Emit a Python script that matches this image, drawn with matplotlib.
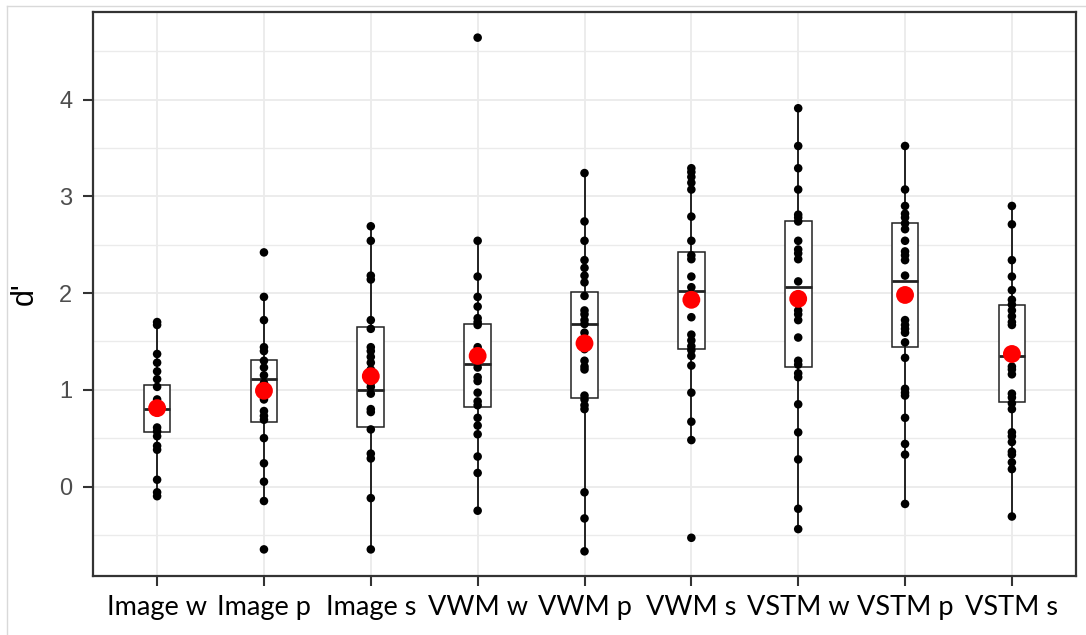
import matplotlib
matplotlib.use("Agg")
import matplotlib.pyplot as plt
from matplotlib.lines import Line2D
import numpy as np

# categories and raw d' values
labels = ["Image w", "Image p", "Image s", "VWM w", "VWM p", "VWM s",
          "VSTM w", "VSTM p", "VSTM s"]

image_w = [1.70, 1.67, 1.37, 1.28, 1.19, 1.11, 1.03, 0.90, 0.82, 0.61, 0.57,
           0.52, 0.42, 0.38, 0.07, -0.06, -0.10]
image_p = [2.42, 1.96, 1.72, 1.44, 1.40, 1.30, 1.23, 1.15, 1.07, 0.99, 0.90,
           0.78, 0.73, 0.69, 0.50, 0.24, 0.05, -0.15, -0.65]
image_s = [2.69, 2.54, 2.18, 2.14, 1.72, 1.63, 1.44, 1.40, 1.34, 1.28, 1.21,
           1.07, 1.03, 0.96, 0.80, 0.77, 0.59, 0.34, 0.29, -0.12, -0.65]
vwm_w = [4.64, 2.54, 2.17, 1.96, 1.86, 1.74, 1.70, 1.67, 1.44, 1.23, 1.13,
         1.09, 0.97, 0.88, 0.84, 0.71, 0.63, 0.54, 0.31, 0.14, -0.25]
vwm_p = [3.24, 2.74, 2.54, 2.34, 2.26, 2.18, 2.11, 1.97, 1.82, 1.78, 1.72,
         1.68, 1.59, 1.42, 1.30, 1.24, 1.21, 0.94, 0.90, 0.84, 0.80, -0.06,
         -0.33, -0.67]
vwm_s = [3.29, 3.25, 3.20, 3.14, 3.07, 2.79, 2.54, 2.39, 2.35, 2.17, 2.06,
         1.75, 1.57, 1.51, 1.45, 1.41, 1.35, 1.25, 0.97, 0.67, 0.48, -0.53]
vstm_w = [3.91, 3.52, 3.29, 3.07, 2.81, 2.78, 2.74, 2.54, 2.45, 2.41, 2.35,
          2.12, 1.82, 1.78, 1.72, 1.54, 1.30, 1.26, 1.17, 1.13, 0.85, 0.56,
          0.28, -0.23, -0.44]
vstm_p = [3.52, 3.07, 2.90, 2.82, 2.78, 2.72, 2.66, 2.54, 2.43, 2.39, 2.34,
          2.18, 1.72, 1.67, 1.63, 1.59, 1.49, 1.33, 1.01, 0.97, 0.94, 0.71,
          0.44, 0.33, -0.18]
vstm_s = [2.90, 2.71, 2.34, 2.17, 2.03, 1.93, 1.88, 1.82, 1.76, 1.70, 1.67,
          1.24, 1.21, 1.16, 0.96, 0.92, 0.86, 0.80, 0.56, 0.52, 0.46, 0.36,
          0.33, 0.25, 0.18, -0.31]

groups = [image_w, image_p, image_s, vwm_w, vwm_p, vwm_s, vstm_w, vstm_p, vstm_s]

# box stats as drawn in the picture
q1 = [0.56, 0.67, 0.62, 0.82, 0.92, 1.42, 1.24, 1.44, 0.87]
med = [0.80, 1.11, 1.00, 1.27, 1.68, 2.02, 2.06, 2.12, 1.35]
q3 = [1.05, 1.31, 1.65, 1.68, 2.01, 2.42, 2.74, 2.72, 1.88]
whislo = [-0.10, -0.15, -0.65, -0.25, -0.67, 0.48, -0.44, -0.18, -0.31]
whishi = [1.70, 1.96, 2.69, 2.54, 3.24, 3.29, 3.91, 3.52, 2.90]
means = [0.81, 0.99, 1.14, 1.35, 1.48, 1.93, 1.94, 1.98, 1.37]

W, H = 1086, 635
fig = plt.figure(figsize=(W / 100, H / 100), dpi=100)
ax = fig.add_axes([93 / W, 1 - 576 / H, (1076 - 93) / W, (576 - 12) / H])

x = np.arange(len(labels))

stats = []
for i in range(len(labels)):
    stats.append(dict(q1=q1[i], med=med[i], q3=q3[i], whislo=whislo[i],
                      whishi=whishi[i], fliers=[]))
ax.bxp(stats, positions=x, widths=0.25, showcaps=False, showfliers=False,
       patch_artist=True,
       boxprops=dict(facecolor="white", edgecolor="#222222", linewidth=1.1),
       whiskerprops=dict(color="#222222", linewidth=1.4),
       medianprops=dict(color="#222222", linewidth=2.0),
       zorder=2)

for i, vals in enumerate(groups):
    ax.scatter(np.full(len(vals), x[i]), vals, s=38, color="black",
               edgecolors="none", zorder=3)
ax.scatter(x, means, s=165, color="#FF0000", edgecolors="none", zorder=4)

ax.set_xlim(-0.6, len(labels) - 0.4)
ax.set_ylim(-0.925, 4.905)
ax.set_xticks(x)
ax.set_xticklabels(labels, fontfamily="Lato", fontsize=19.5, color="black")
ax.set_yticks([0, 1, 2, 3, 4])
ax.set_yticks(np.arange(-0.5, 5, 1.0), minor=True)
for t in ax.get_yticklabels():
    t.set_fontfamily("Liberation Sans")
    t.set_fontsize(17)
    t.set_color("#4D4D4D")
ax.tick_params(axis="both", which="major", length=7, width=1.5,
               color="#333333")
ax.tick_params(axis="y", which="major", pad=8)
ax.tick_params(axis="y", which="minor", length=0)
ax.tick_params(axis="x", pad=7)

ax.grid(True, which="major", color="#EBEBEB", linewidth=1.3, zorder=0)
ax.grid(True, which="minor", axis="y", color="#EBEBEB", linewidth=1.0, zorder=0)
ax.set_axisbelow(True)
for sp in ax.spines.values():
    sp.set_color("#333333")
    sp.set_linewidth(1.6)

ax.set_ylabel("d'", fontfamily="Liberation Sans", fontsize=22, color="black",
              labelpad=14)

# light frame around the screenshot
fig.add_artist(Line2D([7 / W, 7 / W], [0, 1 - 6 / H], transform=fig.transFigure,
                      color="#D9D9D9", linewidth=1))
fig.add_artist(Line2D([7 / W, 1], [1 - 6 / H, 1 - 6 / H], transform=fig.transFigure,
                      color="#D9D9D9", linewidth=1))

fig.savefig("out.png", dpi=100)
